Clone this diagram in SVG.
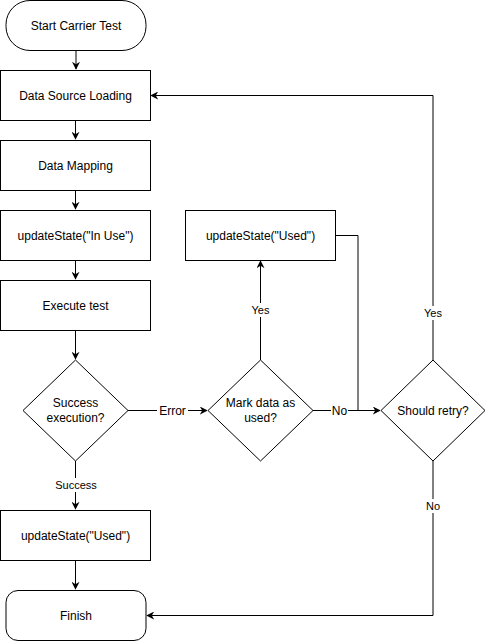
<svg xmlns="http://www.w3.org/2000/svg" width="486" height="641" viewBox="0 0 486 641">
<style>
.n{fill:#fff;stroke:#000;stroke-width:1}
.t{font-family:"Liberation Sans",Arial,sans-serif;font-size:12px;fill:#000;text-anchor:middle;dominant-baseline:central}
.l{font-family:"Liberation Sans",Arial,sans-serif;font-size:11px;fill:#000;text-anchor:middle;dominant-baseline:central}
.c{fill:none;stroke:#000;stroke-width:1}
.bg{fill:#fff}
</style>
<defs>
<marker id="a" viewBox="0 0 10 10" refX="9" refY="5" markerWidth="8" markerHeight="8" markerUnits="userSpaceOnUse" orient="auto">
<path d="M0,0 L10,5 L0,10 L3,5 Z" fill="#000"/>
</marker>
</defs>
<rect width="486" height="641" fill="#fff"/>
<g id="connectors">
<path class="c" d="M76,50.5 V69" marker-end="url(#a)"/>
<path class="c" d="M75.5,120.5 V139" marker-end="url(#a)"/>
<path class="c" d="M75.5,190.5 V209" marker-end="url(#a)"/>
<path class="c" d="M75.5,260.5 V279" marker-end="url(#a)"/>
<path class="c" d="M75.5,330.5 V359" marker-end="url(#a)"/>
<path class="c" d="M75.5,460.5 V509" marker-end="url(#a)"/>
<path class="c" d="M75.5,560.5 V589" marker-end="url(#a)"/>
<path class="c" d="M128,410.5 H207" marker-end="url(#a)"/>
<path class="c" d="M260.5,360 V261" marker-end="url(#a)"/>
<path class="c" d="M313,410.5 H380" marker-end="url(#a)"/>
<path class="c" d="M335.5,235.5 H358 V410.5"/>
<path class="c" d="M433,360 V95.5 H151" marker-end="url(#a)"/>
<path class="c" d="M433,460 V615.5 H147" marker-end="url(#a)"/>
<rect class="bg" x="55" y="478" width="42" height="14"/>
<text class="l" x="76" y="485">Success</text>
<rect class="bg" x="157" y="403" width="31" height="14"/>
<text class="t" x="172.5" y="410.5">Error</text>
<rect class="bg" x="250" y="303" width="21" height="14"/>
<text class="l" x="260.5" y="310">Yes</text>
<rect class="bg" x="331" y="403" width="17" height="14"/>
<text class="t" x="339.5" y="410.5">No</text>
<rect class="bg" x="422" y="306" width="22" height="14"/>
<text class="l" x="433" y="313">Yes</text>
<rect class="bg" x="424" y="499" width="18" height="14"/>
<text class="l" x="433" y="506">No</text>
</g>
<g id="start"><rect class="n" x="6" y="0.5" width="140" height="50" rx="24" ry="24"/><text class="t" x="76" y="25.5">Start Carrier Test</text></g>
<g id="loading"><rect class="n" x="0.5" y="70.5" width="150" height="50"/><text class="t" x="75.5" y="95.5">Data Source Loading</text></g>
<g id="mapping"><rect class="n" x="0.5" y="140.5" width="150" height="50"/><text class="t" x="75.5" y="165.5">Data Mapping</text></g>
<g id="inuse"><rect class="n" x="0.5" y="210.5" width="150" height="50"/><text class="t" x="75.5" y="235.5">updateState("In Use")</text></g>
<g id="execute"><rect class="n" x="0.5" y="280.5" width="150" height="50"/><text class="t" x="75.5" y="305.5">Execute test</text></g>
<g id="success"><path class="n" d="M75.5,360 L128,410.5 L75.5,461 L23,410.5 Z"/><text class="t" x="75.5" y="403">Success</text><text class="t" x="75.5" y="418">execution?</text></g>
<g id="mark"><path class="n" d="M260.5,360 L313,410.5 L260.5,461 L208,410.5 Z"/><text class="t" x="260.5" y="403">Mark data as</text><text class="t" x="260.5" y="418">used?</text></g>
<g id="used1"><rect class="n" x="185.5" y="210.5" width="150" height="50"/><text class="t" x="260.5" y="235.5">updateState("Used")</text></g>
<g id="retry"><path class="n" d="M433,360 L485,410.5 L433,461 L381,410.5 Z"/><text class="t" x="433" y="410.5">Should retry?</text></g>
<g id="used2"><rect class="n" x="0.5" y="510.5" width="150" height="50"/><text class="t" x="75.5" y="535.5">updateState("Used")</text></g>
<g id="finish"><rect class="n" x="6" y="590.5" width="140" height="50" rx="12" ry="12"/><text class="t" x="76" y="615.5">Finish</text></g>
</svg>
